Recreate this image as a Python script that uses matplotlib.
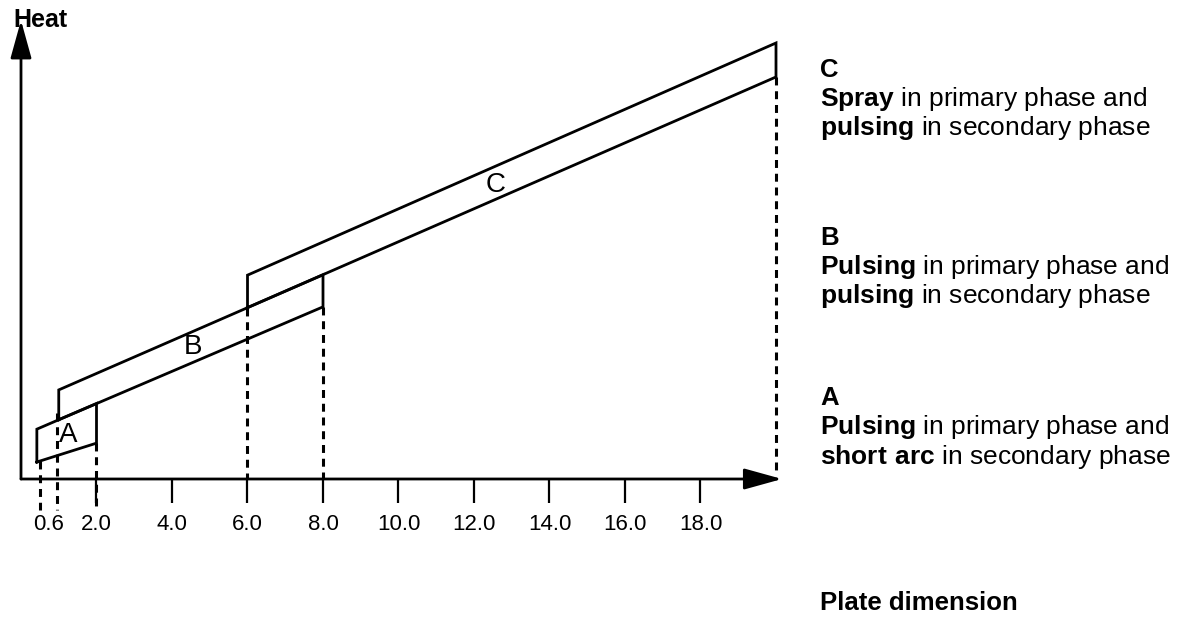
import matplotlib
matplotlib.use('Agg')
import matplotlib.pyplot as plt

plt.rcParams['font.family'] = ['Liberation Sans', 'DejaVu Sans']
plt.rcParams['mathtext.fontset'] = 'custom'
plt.rcParams['mathtext.rm'] = 'Liberation Sans'
plt.rcParams['mathtext.bf'] = 'Liberation Sans:bold'

# ---------------- data ----------------
regions = ['A', 'B', 'C']
x_start = [0.42, 1.0, 6.0]          # plate dimension where each band starts
x_end = [2.0, 8.0, 20.0]            # plate dimension where each band ends
lower_start = [0.45, 1.57, 4.54]    # heat, lower edge at start
lower_end = [0.95, 4.56, 10.65]     # heat, lower edge at end
upper_start = [1.32, 2.36, 5.40]    # heat, upper edge at start
upper_end = [2.00, 5.41, 11.55]     # heat, upper edge at end
label_x = [1.245, 4.556, 12.58]
label_y = [1.166, 3.50, 7.79]

dash_x = [0.5, 0.95, 2.0, 6.0, 8.0, 20.0]
dash_top = [0.48, 1.75, 0.95, 4.54, 4.56, 10.65]
dash_bottom = [-0.82, -0.82, -0.84, 0.0, 0.0, 0.24]

tick_pos = [2, 4, 6, 8, 10, 12, 14, 16, 18]
tick_labels = ['2.0', '4.0', '6.0', '8.0', '10.0', '12.0', '14.0', '16.0', '18.0']
extra_tick_pos = [0.73]
extra_tick_labels = ['0.6']

x_axis_max = 20.16
y_axis_max = 12.15

desc_headers = ['C', 'B', 'A']
desc_bold1 = ['Spray', 'Pulsing', 'Pulsing']
desc_rest1 = [' in primary phase and'] * 3
desc_bold2 = ['pulsing', 'pulsing', 'short\\ arc']
desc_rest2 = [' in secondary phase'] * 3
desc_baselines = [(77, 106, 135), (245, 274, 303), (405, 434, 464)]

# ---------------- figure ----------------
W, H = 1184, 626
fig = plt.figure(figsize=(W / 100, H / 100), dpi=100)
X0px, Y0px, S = 21, 479, 37.75
ax = fig.add_axes([X0px / W, 1 - Y0px / H, x_axis_max * S / W, y_axis_max * S / H])
ax.set_xlim(0, x_axis_max)
ax.set_ylim(0, y_axis_max)
for sp in ax.spines.values():
    sp.set_visible(False)
ax.set_yticks([])

lw = 2.0
for i, r in enumerate(regions):
    xs = [x_start[i], x_start[i], x_end[i], x_end[i], x_start[i]]
    ys = [lower_start[i], upper_start[i], upper_end[i], lower_end[i], lower_start[i]]
    ax.plot(xs, ys, color='black', lw=lw, solid_joinstyle='miter', clip_on=False)
    ax.text(label_x[i], label_y[i], r, fontsize=20, ha='center', va='center')

for xd, yt, yb in zip(dash_x, dash_top, dash_bottom):
    ax.plot([xd, xd], [yt, yb], color='black', lw=2.2, dashes=(2.6, 1.9), clip_on=False)

# axes arrows
arrow_kw = dict(arrowstyle='-|>,head_length=1.3,head_width=0.36', lw=2.0, color='black',
                shrinkA=0, shrinkB=0, mutation_scale=18)
ax.annotate('', xy=(0, y_axis_max), xytext=(0, 0), arrowprops=arrow_kw, annotation_clip=False)
ax.annotate('', xy=(x_axis_max, 0), xytext=(0, 0), arrowprops=arrow_kw, annotation_clip=False)

ax.set_xticks(tick_pos, labels=tick_labels)
ax.set_xticks(extra_tick_pos, labels=extra_tick_labels, minor=True)
ax.tick_params(axis='x', which='major', length=17, width=1.6, direction='out', pad=8,
               labelsize=16)
ax.tick_params(axis='x', which='minor', length=0, pad=25, labelsize=16)

# texts
fig.text(13 / W, 1 - 27 / H, 'Heat', fontsize=18, fontweight='bold', va='baseline')
tx = 820 / W
for h, b1, r1, b2, r2, (y0, y1, y2) in zip(desc_headers, desc_bold1, desc_rest1,
                                          desc_bold2, desc_rest2, desc_baselines):
    fig.text(tx, 1 - y0 / H, h, fontsize=18.5, fontweight='bold', va='baseline')
    fig.text(tx, 1 - y1 / H, r'$\mathbf{' + b1 + '}$' + r1, fontsize=19, va='baseline')
    fig.text(tx, 1 - y2 / H, r'$\mathbf{' + b2 + '}$' + r2, fontsize=19, va='baseline')
fig.text(tx, 1 - 610 / H, 'Plate dimension', fontsize=18.5, fontweight='bold', va='baseline')

fig.savefig('out.png', dpi=100)
